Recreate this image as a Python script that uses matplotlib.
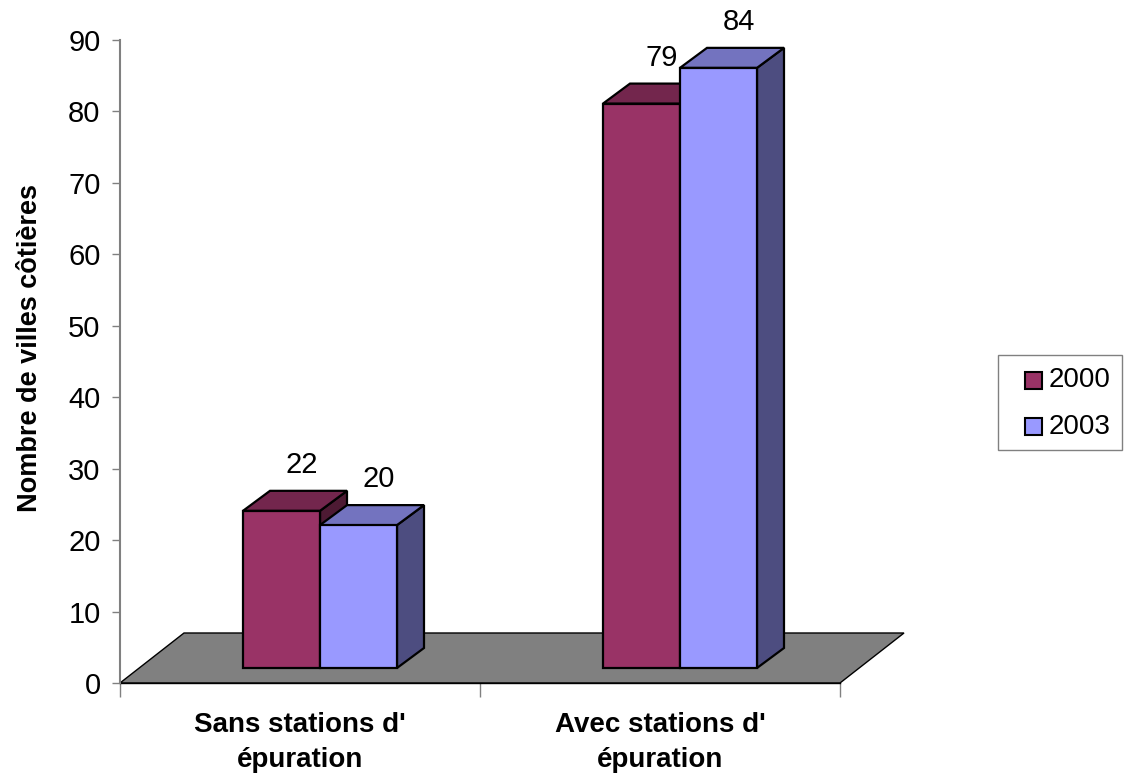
import matplotlib
matplotlib.use('Agg')
import matplotlib.pyplot as plt
from matplotlib.patches import Polygon, Rectangle
from matplotlib.colors import to_rgb

plt.rcParams['font.family'] = ['Liberation Sans', 'DejaVu Sans']

categories = ["Sans stations d'\népuration", "Avec stations d'\népuration"]
series_names = ["2000", "2003"]
values_2000 = [22, 79]
values_2003 = [20, 84]
series_values = [values_2000, values_2003]
colors = ["#993366", "#9999FF"]
y_ticks = list(range(0, 91, 10))
y_label = "Nombre de villes côtières"

W, H = 1124, 777
fig = plt.figure(figsize=(W / 100, H / 100), dpi=100)
ax = fig.add_axes([120 / W, 94 / H, 720 / W, 643 / H])
ax.set_xlim(-0.5, 1.5)
ax.set_ylim(0, 90)
px_x = 720 / 2.0
px_y = 643 / 90.0


def dx(p):
    return p / px_x


def dy(p):
    return p / px_y


def shade(c, f):
    r, g, b = to_rgb(c)
    return (r * f, g * f, b * f)


# floor
fdx, fdy = dx(64), dy(50)
floor = Polygon([(-0.5, 0), (1.5, 0), (1.5 + fdx, fdy), (-0.5 + fdx, fdy)],
                closed=True, facecolor='#808080', edgecolor='black', lw=1,
                clip_on=False, zorder=1)
ax.add_patch(floor)

bx, by = dx(20), dy(15)
bw = dx(77)
ddx, ddy = dx(27), dy(20)
n = len(series_values)
for i in range(len(categories)):
    for j in range(n):
        v = series_values[j][i]
        c = colors[j]
        x0 = i + bx - bw * n / 2 + j * bw
        kw = dict(closed=True, edgecolor='black', lw=1.6, joinstyle='miter',
                  clip_on=False, zorder=3)
        front = Polygon([(x0, by), (x0 + bw, by), (x0 + bw, by + v), (x0, by + v)],
                        facecolor=c, **kw)
        top = Polygon([(x0, by + v), (x0 + bw, by + v), (x0 + bw + ddx, by + v + ddy),
                       (x0 + ddx, by + v + ddy)], facecolor=shade(c, 0.75), **kw)
        side = Polygon([(x0 + bw, by), (x0 + bw + ddx, by + ddy),
                        (x0 + bw + ddx, by + v + ddy), (x0 + bw, by + v)],
                       facecolor=shade(c, 0.5), **kw)
        for p in (side, top, front):
            ax.add_patch(p)
        ax.text(x0 + bw / 2 + ddx * 0.75, by + v + ddy + dy(26), str(v),
                ha='center', va='center', fontsize=21, zorder=4, clip_on=False)

# axes styling
for s in ('top', 'right'):
    ax.spines[s].set_visible(False)
ax.spines['left'].set_color('#808080')
ax.spines['left'].set_linewidth(1.5)
ax.spines['bottom'].set_color('black')
ax.spines['bottom'].set_linewidth(1)
ax.spines['bottom'].set_zorder(2)

ax.set_yticks(y_ticks)
ax.set_yticklabels([str(t) for t in y_ticks])
ax.tick_params(axis='y', direction='out', length=6, width=1, color='#808080',
               labelsize=21, pad=8)

ax.set_xticks([-0.5, 0.5, 1.5])
ax.set_xticklabels(['', '', ''])
ax.tick_params(axis='x', which='major', direction='out', length=10, width=1,
               color='#808080')
ax.set_xticks(range(len(categories)), minor=True)
ax.set_xticklabels(categories, minor=True, fontsize=20, fontweight='bold',
                   linespacing=1.45)
ax.tick_params(axis='x', which='minor', length=0, pad=21)

fig.text(30 / W, 1 - 348 / H, y_label, rotation=90, ha='center', va='center',
         fontsize=19.5, fontweight='bold')

# legend (drawn in figure pixel space)
ft = fig.transFigure
fig.patches.append(Rectangle((998 / W, 1 - 450 / H), 124 / W, 95 / H,
                             transform=ft, facecolor='white', edgecolor='#808080',
                             lw=1))
legend_rows = [380, 427]
for k in range(n):
    yc = legend_rows[k]
    fig.patches.append(Rectangle((1025 / W, 1 - (yc + 8.5) / H), 17 / W, 17 / H,
                                 transform=ft, facecolor=colors[k],
                                 edgecolor='black', lw=1.5))
    fig.text(1049 / W, 1 - yc / H, series_names[k], ha='left', va='center',
             fontsize=20)

fig.savefig('out.png', dpi=100)
